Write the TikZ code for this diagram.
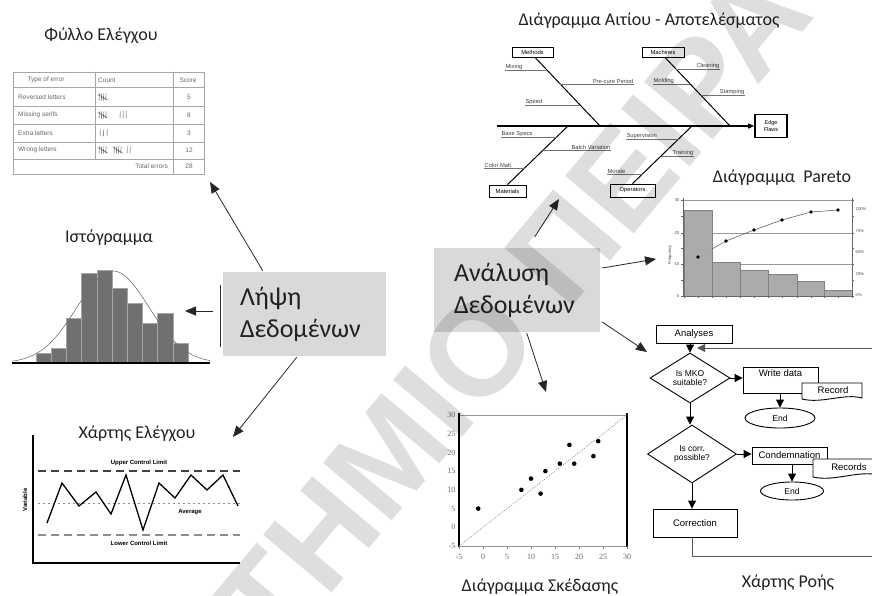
\documentclass[tikz,border=0pt]{standalone}
\usepackage{fontspec}
\setmainfont{Carlito}
\newfontfamily\chartsans{Liberation Sans}
\newfontfamily\chartserif{Liberation Serif}
\usetikzlibrary{arrows.meta,shapes.geometric,calc}
\definecolor{boxgray}{HTML}{D9D9D9}
\definecolor{histbar}{HTML}{707070}
\definecolor{parbar}{HTML}{ABABAB}
\definecolor{titlecol}{HTML}{222222}
\begin{document}
\begin{tikzpicture}[x=1pt,y=-1pt,
  ttl/.style={font=\fontsize{18}{20}\selectfont,text=titlecol,inner sep=0pt},
  mainbox/.style={fill=boxgray,draw=none,minimum height=84pt,align=left,
     font=\fontsize{26}{32}\selectfont,text=titlecol,inner sep=0pt},
  bigarrow/.style={line width=0.8pt,black!85,-{Triangle[length=11pt,width=9pt]}},
  cstext/.style={font=\chartsans\fontsize{6.5}{7}\selectfont,text=black!60,inner sep=0pt},
  csline/.style={draw=black!35,line width=0.6pt},
  tallyfive/.pic={\draw[black!70,line width=0.45pt] (0,3.5)--(0.4,-3.5) (2.3,3.6)--(2.6,-3.4) (4.6,3.5)--(4.8,-3.5) (6.8,3.4)--(7.1,-3.6) (-1,-2.5)--(8.5,3);},
  tallyone/.pic={\draw[black!70,line width=0.45pt] (0,3.5)--(0.3,-3.5);},
  ccl/.style={font=\chartsans\bfseries\fontsize{6}{7}\selectfont,inner sep=0pt},
  fbl/.style={font=\chartsans\fontsize{5.8}{7}\selectfont,inner sep=0.4pt,text=black!75},
  fbu/.style={draw=black!55,line width=0.5pt},
  fbbox/.style={draw,line width=0.8pt,fill=white,font=\chartsans\fontsize{5.8}{7}\selectfont,inner sep=1pt,minimum height=10pt},
  fbbone/.style={line width=1pt},
  parlab/.style={font=\chartsans\fontsize{4.2}{5}\selectfont,inner sep=0.5pt,text=black!70},
  sclab/.style={font=\chartserif\fontsize{8}{9}\selectfont,inner sep=0.5pt,text=black!60},
  fc/.style={draw,line width=0.9pt,font=\chartsans\fontsize{9.5}{10}\selectfont,inner sep=1pt},
  fcsmall/.style={font=\chartsans\fontsize{8.5}{9.5}\selectfont},
  farr/.style={line width=0.9pt,-{Triangle[length=8pt,width=8pt]}},
  docshape/.style={draw,line width=0.9pt,fill=white}
]
\useasboundingbox (0,0) rectangle (872,596);

%================ Check sheet ================
\node[ttl] (tcs) at (101,36) {Φύλλο Ελέγχου};
\draw[csline] (13,72) rectangle (204,174);
\foreach \yy in {87,106,124,142,159} \draw[csline] (13,\yy) -- (204,\yy);
\draw[csline] (95,72) -- (95,159);
\draw[csline] (173,72) -- (173,174);
\node[cstext] (csh1) at (46,80) {Type of error};
\node[cstext,anchor=west] (csh2) at (98,80) {Count};
\node[cstext] (csh3) at (188,80) {Score};
\node[cstext,anchor=west] (csr1) at (18,97) {Reversed letters};
\node[cstext,anchor=west] (csr2) at (18,115) {Missing serifs};
\node[cstext,anchor=west] (csr3) at (18,133) {Extra letters};
\node[cstext,anchor=west] (csr4) at (18,150) {Wrong letters};
\node[cstext] (css1) at (189,97) {5};
\node[cstext] (css2) at (189,115) {8};
\node[cstext] (css3) at (189,133) {3};
\node[cstext] (css4) at (189,150) {12};
\node[cstext,anchor=east] (cstot) at (168,166) {Total errors};
\node[cstext] (cstotv) at (189,166) {28};
\pic at (99,97) {tallyfive};
\pic at (99,115) {tallyfive};
\pic at (120,115) {tallyone};
\pic at (123,115) {tallyone};
\pic at (126,115) {tallyone};
\pic at (100,133) {tallyone};
\pic at (103.5,133) {tallyone};
\pic at (107,133) {tallyone};
\pic at (99,150) {tallyfive};
\pic at (114,150) {tallyfive};
\pic at (127,150) {tallyone};
\pic at (130,150) {tallyone};

%================ Histogram ================
\node[ttl] (thist) at (109,238) {Ιστόγραμμα};
\foreach \i/\t in {0/353,1/348,2/318,3/273,4/270,5/288,6/303,7/323,8/313,9/343}
  \draw[fill=histbar,draw=black!35,line width=0.5pt] ({36+15.2*\i},363) rectangle ({36+15.2*(\i+1)},\t);
\draw[black!55,line width=0.6pt,domain=12:210,samples=80,smooth] plot (\x,{363-92*exp(-((\x-113)^2)/2592)});
\draw[line width=1.3pt] (12,363) -- (210,363);

%================ Control chart ================
\node[ttl] (tcc) at (137,434) {Χάρτης Ελέγχου};
\draw[line width=1.5pt] (33,435) -- (33,563) -- (240,563);
\draw[line width=1.4pt,black!75,dash pattern=on 8pt off 5pt] (38,471) -- (240,471);
\draw[line width=1pt,black!45,dash pattern=on 1.5pt off 3.5pt] (38,503) -- (240,503);
\draw[line width=1.4pt,black!45,dash pattern=on 8pt off 5pt] (38,535) -- (240,535);
\node[ccl] (ucl) at (139,463) {Upper Control Limit};
\node[ccl] (avg) at (190,512) {Average};
\node[ccl] (lcl) at (139,543) {Lower Control Limit};
\node[ccl,rotate=90] (var) at (25,500) {Variable};
\draw[line width=1.3pt,line join=miter] (47,523) -- (62,483) -- (79,506) -- (96,492) -- (111,514) -- (126,475) -- (143,530) -- (159,483) -- (175,498) -- (191,475) -- (207,490) -- (223,475) -- (238,506);

%================ Fishbone ================
\node[ttl] (tfb) at (649,21) {Διάγραμμα Αιτίου - Αποτελέσματος};
\coordinate (fbtail) at (497,126);
\node[draw,line width=1.6pt,fill=white,align=center,font=\chartsans\fontsize{5.5}{6.5}\selectfont,minimum width=32pt,minimum height=23pt,inner sep=0.5pt] (effect) at (771,126) {Edge\\Flaws};
\draw[line width=1.4pt,-{Triangle[length=6pt,width=5pt]}] (fbtail) -- (effect.west);
\node[fbbox,minimum width=41pt] (meth) at (532.5,52) {Methods};
\node[fbbox,minimum width=42pt] (mach) at (663,52) {Machines};
\node[fbbox,minimum width=37pt,minimum height=12pt] (matl) at (507.5,191) {Materials};
\node[fbbox,minimum width=45pt,minimum height=13pt] (oper) at (632.5,190.5) {Operators};
\draw[fbbone] ($(meth.south)+(2.5,0)$) -- (600,126);
\draw[fbbone] ($(mach.south)+(2,0)$) -- (730,126);
\draw[fbbone] (matl.north) -- (568,126);
\draw[fbbone] (oper.north) -- (692,126);
% methods causes
\draw[fbu] (505,70) -- (547,70); \node[fbl,anchor=south west] (c1) at (505,70) {Mixing};
\draw[fbu] (560,84) -- (634,84); \node[fbl,anchor=south east] (c2) at (634,84) {Pre-cure Period};
\draw[fbu] (525,105) -- (580,105); \node[fbl,anchor=south west] (c3) at (525,105) {Speed};
% machines causes
\draw[fbu] (676,69) -- (720,69); \node[fbl,anchor=south east] (c4) at (720,69) {Cleaning};
\draw[fbu] (653,84) -- (690,84); \node[fbl,anchor=south west] (c5) at (653,84) {Molding};
\draw[fbu] (701,95) -- (745,95); \node[fbl,anchor=south east] (c6) at (745,95) {Stamping};
% materials causes
\draw[fbu] (501,137) -- (557,137); \node[fbl,anchor=south west] (c7) at (501,137) {Base Specs};
\draw[fbu] (484,168) -- (525,168); \node[fbl,anchor=south west] (c8) at (484,168) {Color Matl.};
\draw[fbu] (544,150) -- (611,150); \node[fbl,anchor=south east] (c9) at (611,150) {Batch Variation};
% operators causes
\draw[fbu] (626,139) -- (679,139); \node[fbl,anchor=south west] (c10) at (626,139) {Supervision};
\draw[fbu] (661,156) -- (694,156); \node[fbl,anchor=south east] (c11) at (694,156) {Training};
\draw[fbu] (607,174) -- (643,174); \node[fbl,anchor=south west] (c12) at (607,174) {Morale};

%================ Pareto ================
\node[ttl] (tpar) at (782,178) {Διάγραμμα\ \ Pareto};
\draw[black!40,line width=0.4pt] (683,200) -- (852,200) (683,233) -- (852,233) (683,264) -- (852,264);
\foreach \a/\b/\t in {684/712/210,712/740/262,740/768/270,768/797/274,797/824/281,824/852/290}
  \draw[fill=parbar,draw=black!50,line width=0.5pt] (\a,296) rectangle (\b,\t);
\draw[black!60,line width=0.6pt] (683,198) -- (683,297) (852,198) -- (852,297) (681,296) -- (854,296);
\foreach \yy in {200,216,233,248,264,280,296} \draw[black!60,line width=0.4pt] (681,\yy) -- (683,\yy) (852,\yy) -- (854,\yy);
\foreach \xx in {684,698,712,726,740,754,768,782,797,811,824,838,852} \draw[black!60,line width=0.4pt] (\xx,296) -- (\xx,298);
\draw[black!70,line width=0.5pt] (712,249) -- (726,241) -- (754,230) -- (782,220) -- (811,212) -- (838,210);
\foreach \p in {(698,257),(726,241),(754,230),(782,220),(811,212),(838,210)} \fill \p circle (1.8pt);
\node[parlab,anchor=east] (pl1) at (680,200) {30};
\node[parlab,anchor=east] (pl2) at (680,233) {20};
\node[parlab,anchor=east] (pl3) at (680,264) {10};
\node[parlab,anchor=east] (pl4) at (680,296) {0};
\node[parlab,anchor=west] (pr1) at (855,209) {100\%};
\node[parlab,anchor=west] (pr2) at (855,231) {75\%};
\node[parlab,anchor=west] (pr3) at (855,252) {50\%};
\node[parlab,anchor=west] (pr4) at (855,274) {25\%};
\node[parlab,anchor=west] (pr5) at (855,295) {0\%};
\node[parlab,rotate=90] (pfreq) at (670,255) {Frequency};

%================ Scatter ================
\node[ttl] (tsc) at (540,587) {Διάγραμμα Σκέδασης};
\draw[black!40,line width=0.5pt] (459,415) -- (627,415) (459,546) -- (627,546);
\draw[line width=1.5pt] (459,413) -- (459,547) (627,413) -- (627,547);
\draw[black!55,dash pattern=on 1pt off 1.2pt,line width=0.5pt] (459,546) -- (627,415);
\foreach \v in {-5,0,5,10,15,20,25,30} {
  \node[sclab,anchor=east] at (456,{546-(\v+5)*3.743}) {\v};
  \node[sclab] at ({459+(\v+5)*4.8},557) {\v};
  \draw[black!50,line width=0.4pt] ({459+(\v+5)*4.8},546) -- ({459+(\v+5)*4.8},549);
}
\foreach \px/\py in {-1/5,8/10,10/13,12/9,13/15,16/17,18/22,19/17,23/19,24/23}
  \fill ({459+(\px+5)*4.8},{546-(\py+5)*3.743}) circle (2.3pt);

%================ Flow chart ================
\node[ttl] (tfc) at (788,583) {Χάρτης Ροής};
\node[fc,minimum width=76pt,minimum height=18pt] (anl) at (694,334) {Analyses};
\node[fc,fcsmall,diamond,aspect=1.6,minimum width=80pt,minimum height=50pt,inner sep=0pt,align=center] (dec1) at (690,378) {Is MKO\\suitable?};
\node[fc,minimum width=75pt,minimum height=26pt,text height=7pt,text depth=14pt,inner ysep=2.5pt] (wd) at (780.5,380) {Write data};
\coordinate (recc) at (832,391);
\draw[docshape] ($(recc)+(-30,-8)$) -- ($(recc)+(30,-8)$) -- ($(recc)+(30,7)$) .. controls ($(recc)+(12,2)$) and ($(recc)+(-10,13)$) .. ($(recc)+(-30,8)$) -- cycle;
\node[font=\chartsans\fontsize{9.5}{10}\selectfont,inner sep=0pt] (rec) at ($(recc)+(1,-1)$) {Record};
\node[fc,fcsmall,ellipse,minimum width=70pt,minimum height=20pt,inner sep=0pt] (end1) at (780,418) {End};
\node[fc,fcsmall,diamond,aspect=1.6,minimum width=89pt,minimum height=58pt,inner sep=0pt,align=center] (dec2) at (692,454) {Is corr.\\possible?};
\node[fc,minimum width=75pt,minimum height=17pt] (cond) at (789.5,455.5) {Condemnation};
\coordinate (recsc) at (846,468);
\draw[docshape] ($(recsc)+(-33,-9)$) -- ($(recsc)+(40,-9)$) -- ($(recsc)+(40,7)$) -- ($(recsc)+(33,7)$) .. controls ($(recsc)+(12,2)$) and ($(recsc)+(-12,14)$) .. ($(recsc)+(-33,9)$) -- cycle;
\node[font=\chartsans\fontsize{9.5}{10}\selectfont,inner sep=0pt] (recs) at ($(recsc)+(3,-1)$) {Records};
\node[fc,fcsmall,ellipse,minimum width=63pt,minimum height=18pt,inner sep=0pt] (end2) at (792,491) {End};
\node[fc,minimum width=84pt,minimum height=28pt] (corr) at (695,523) {Correction};
\draw[farr] (anl.south -| dec1.north) -- (dec1.north);
\draw[farr] (dec1.east) -- (dec1.east -| wd.west);
\draw[farr] (wd.south -| end1.north) -- (end1.north);
\draw[farr] (dec1.south) -- (dec1.south |- dec2.north);
\draw[farr] (dec2.east) -- (dec2.east -| cond.west);
\draw[farr] (cond.south -| end2.north) -- (end2.north);
\draw[farr] (dec2.south) -- (dec2.south |- corr.north);
\coordinate (loopbr) at (880,556);
\coordinate (looptr) at (880,348);
\draw[black!65,line width=0.8pt] (corr.south -| dec2.south) -- (dec2.south |- loopbr) -- (loopbr) -- (looptr);
\draw[black!65,line width=0.8pt,-{Triangle[length=8pt,width=8pt]}] (looptr) -- ($(dec1.north |- looptr)+(7,0)$);

%================ Central boxes ================
\node[mainbox,minimum width=163pt,text width=129pt] (lipsi) at (304.5,314) {Λήψη\\Δεδομένων};
\node[mainbox,minimum width=166pt,text width=126pt] (anal) at (517,290) {Ανάλυση\\Δεδομένων};
\draw[line width=1.1pt,black!80] ($(lipsi.west)+(-2,-29)$) -- ($(lipsi.west)+(-2,33)$);

\coordinate (cstip) at (210,182);
\coordinate (histtip) at (185,311);
\coordinate (cctip) at (233,437);
\coordinate (fbtip) at (559,199);
\coordinate (partip) at (656,259);
\coordinate (fctip) at (647,352);
\coordinate (sctip) at (546,392);
\draw[bigarrow] ($(lipsi.north west)+(40,-1)$) -- (cstip);
\draw[bigarrow] ($(lipsi.west)+(-10,-3)$) -- (histtip);
\draw[bigarrow] ($(lipsi.south west)+(74,1)$) -- (cctip);
\draw[bigarrow] ($(anal.north west)+(101,-11)$) -- (fbtip);
\draw[bigarrow] ($(anal.east)+(2,-22)$) -- (partip);
\draw[bigarrow] ($(anal.east)+(2,32)$) -- (fctip);
\draw[bigarrow] ($(anal.south west)+(93,1)$) -- (sctip);

%================ Watermark ================
\node[font=\chartsans\bfseries\fontsize{130}{130}\selectfont,text opacity=0.13,rotate=50,inner sep=0pt] (wm) at (487,339) {ΣΤΗΜΙΟ ΠΕΙΡΑ};
\end{tikzpicture}
\end{document}
